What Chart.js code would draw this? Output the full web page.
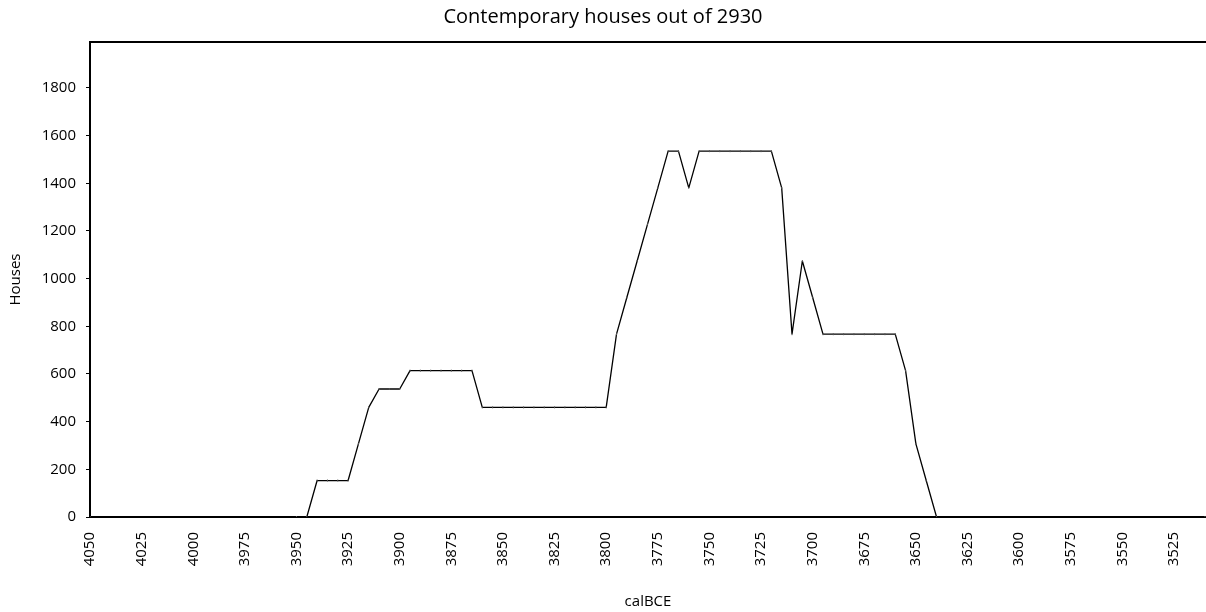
<!DOCTYPE html>
<html>
<head>
<meta charset="utf-8">
<script src="https://cdn.jsdelivr.net/npm/chart.js@4.4.1/dist/chart.umd.min.js"></script>
<style>
  html, body { margin: 0; padding: 0; background: #fff; }
  #wrap { width: 1206px; height: 612px; }
</style>
</head>
<body>
<div id="wrap"><canvas id="houses" width="1206" height="612"></canvas></div>
<script>
// years (calBCE) and number of contemporary houses
const years = [
  4050, 3950, 3945, 3940, 3935, 3930, 3925, 3920, 3915, 3910, 3905, 3900,
  3895, 3890, 3885, 3880, 3875, 3870, 3865, 3860, 3855, 3850, 3845, 3840,
  3835, 3830, 3825, 3820, 3815, 3810, 3805, 3800, 3795, 3790, 3785, 3780,
  3775, 3770, 3765, 3760, 3755, 3750, 3745, 3740, 3735, 3730, 3725, 3720,
  3715, 3710, 3705, 3700, 3695, 3690, 3685, 3680, 3675, 3670, 3665, 3660,
  3655, 3650, 3645, 3640, 3510
];
const houses = [
  0, 0, 0, 153, 153, 153, 153, 307, 460, 537, 537, 537,
  614, 614, 614, 614, 614, 614, 614, 460, 460, 460, 460, 460,
  460, 460, 460, 460, 460, 460, 460, 460, 767, 921, 1074, 1228,
  1381, 1535, 1535, 1381, 1535, 1535, 1535, 1535, 1535, 1535, 1535, 1535,
  1381, 767, 1074, 921, 767, 767, 767, 767, 767, 767, 767, 767,
  614, 307, 153, 0, 0
];
const xTicks = [4050, 4025, 4000, 3975, 3950, 3925, 3900, 3875, 3850, 3825, 3800,
  3775, 3750, 3725, 3700, 3675, 3650, 3625, 3600, 3575, 3550, 3525];
const yTicks = [0, 200, 400, 600, 800, 1000, 1200, 1400, 1600, 1800];

const FONT = "'Open Sans', 'Noto Sans', sans-serif";

// top frame line of the plot box
const topBorder = {
  id: "topBorder",
  afterDraw(chart) {
    const { ctx, chartArea } = chart;
    ctx.save();
    ctx.strokeStyle = "#000";
    ctx.lineWidth = 2;
    ctx.beginPath();
    ctx.moveTo(chartArea.left - 1, chartArea.top);
    ctx.lineTo(chartArea.right, chartArea.top);
    ctx.stroke();
    ctx.restore();
  }
};

new Chart(document.getElementById("houses"), {
  type: "line",
  data: {
    datasets: [{
      label: "Houses",
      data: years.map((y, i) => ({ x: y, y: houses[i] })),
      borderColor: "#000",
      borderWidth: 1.3,
      borderJoinStyle: "bevel",
      pointStyle: "line",
      rotation: 90,
      pointRadius: 1,
      pointBorderWidth: 1,
      pointBorderColor: "#555",
      tension: 0
    }]
  },
  plugins: [topBorder],
  options: {
    responsive: false,
    animation: false,
    // the plot box runs right up to the canvas edge
    layout: { padding: 0, autoPadding: false },
    plugins: {
      legend: { display: false },
      tooltip: { enabled: false },
      title: {
        display: true,
        text: "Contemporary houses out of 2930",
        color: "#000",
        font: { family: FONT, size: 20, weight: "normal" },
        padding: { top: 5, bottom: 13 }
      }
    },
    scales: {
      x: {
        type: "linear",
        reverse: true,
        min: 3509.5,
        max: 4050,
        grid: { display: false },
        border: { display: true, color: "#000", width: 2 },
        afterBuildTicks: s => { s.ticks = xTicks.map(v => ({ value: v })); },
        afterFit: s => { s.height = 95; s.paddingRight = 0; },
        ticks: {
          color: "#000",
          font: { family: FONT, size: 15 },
          minRotation: 90,
          maxRotation: 90,
          padding: 7,
          autoSkip: false,
          callback: v => String(v)
        },
        title: {
          display: true,
          text: "calBCE",
          color: "#000",
          font: { family: FONT, size: 15 },
          padding: { top: 4, bottom: 1 }
        }
      },
      y: {
        min: 0,
        max: 1993,
        grid: {
          display: true,
          drawOnChartArea: false,
          drawTicks: true,
          tickLength: 4,
          color: "#000"
        },
        border: { display: true, color: "#000", width: 2 },
        afterBuildTicks: s => { s.ticks = yTicks.map(v => ({ value: v })); },
        afterFit: s => { s.width = 90; },
        ticks: {
          color: "#000",
          font: { family: FONT, size: 15 },
          padding: 10,
          callback: v => String(v)
        },
        title: {
          display: true,
          text: "Houses",
          color: "#000",
          font: { family: FONT, size: 15 },
          padding: { top: 7, bottom: 0 }
        }
      }
    }
  }
});
</script>
</body>
</html>
